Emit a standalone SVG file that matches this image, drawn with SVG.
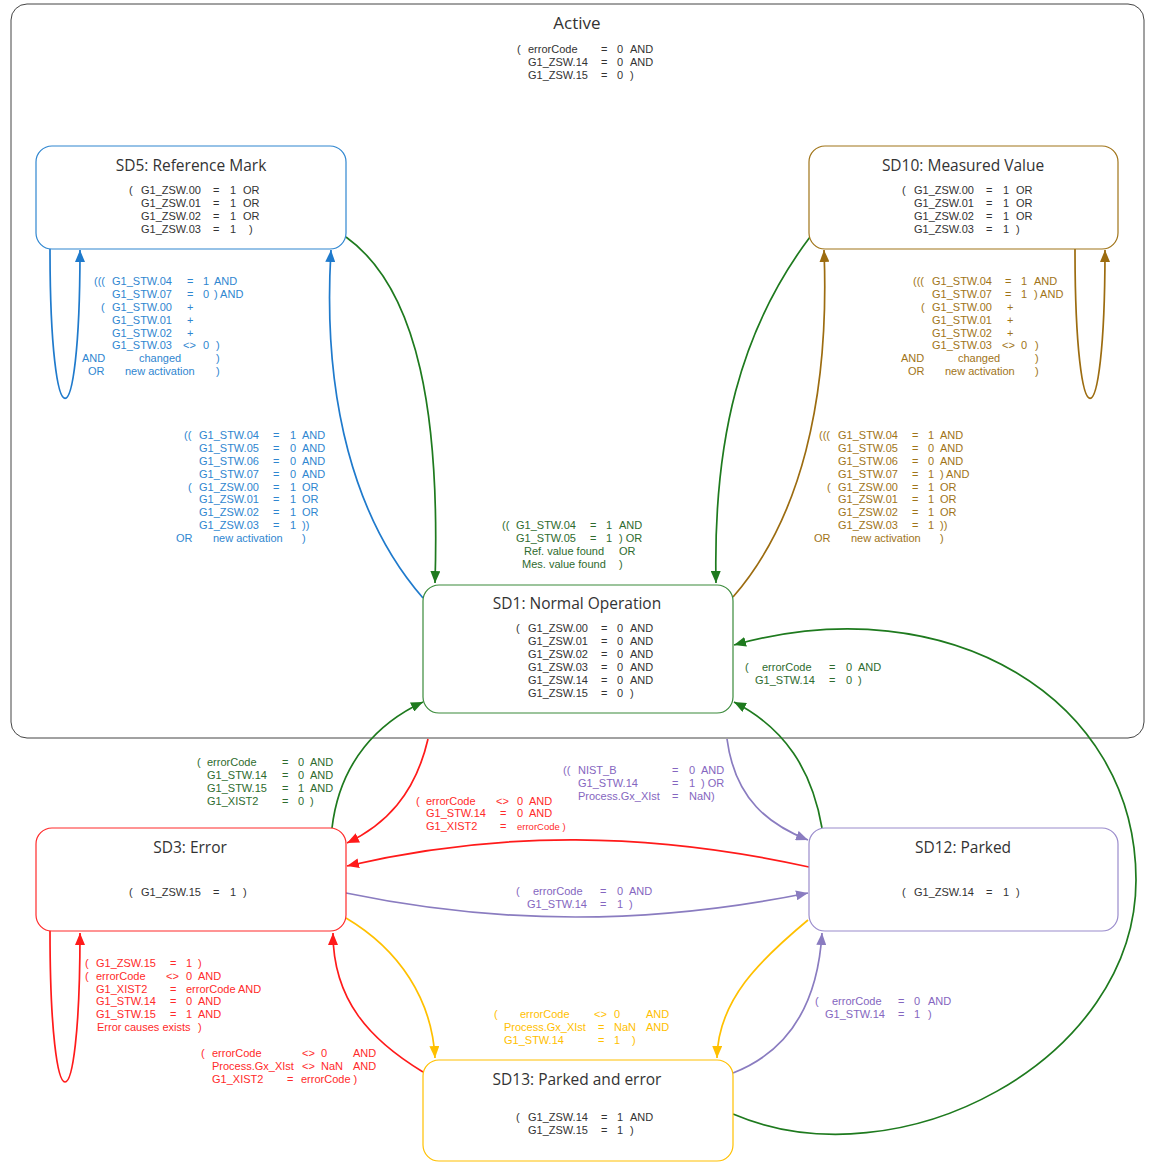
<svg xmlns="http://www.w3.org/2000/svg" width="1150" height="1162" viewBox="0 0 1150 1162">
<style>
.t{font-family:"Liberation Sans",Arial,sans-serif;font-size:11px}
.h{font-family:"Open Sans","Noto Sans",sans-serif;font-size:15.5px;text-anchor:middle;fill:#333}
.n{fill:#333}
.node{fill:#fff;stroke-width:1.2}
.c{fill:none;stroke-width:1.7}
.blue{fill:#2f86d0}.green{fill:#2e6b2e}.brown{fill:#a07418}.red{fill:#ff2a2a}.purple{fill:#8566c0}.yellow{fill:#ffc000}
</style>
<defs>
<marker id="aB" viewBox="0 0 12 10" refX="12" refY="5" markerWidth="12" markerHeight="10" markerUnits="userSpaceOnUse" orient="auto"><path d="M0,0 L12,5 L0,10 z" fill="#1f7acc"/></marker>
<marker id="aG" viewBox="0 0 12 10" refX="12" refY="5" markerWidth="12" markerHeight="10" markerUnits="userSpaceOnUse" orient="auto"><path d="M0,0 L12,5 L0,10 z" fill="#1e7a1e"/></marker>
<marker id="aBr" viewBox="0 0 12 10" refX="12" refY="5" markerWidth="12" markerHeight="10" markerUnits="userSpaceOnUse" orient="auto"><path d="M0,0 L12,5 L0,10 z" fill="#9c6c10"/></marker>
<marker id="aR" viewBox="0 0 12 10" refX="12" refY="5" markerWidth="12" markerHeight="10" markerUnits="userSpaceOnUse" orient="auto"><path d="M0,0 L12,5 L0,10 z" fill="#ff1a1a"/></marker>
<marker id="aP" viewBox="0 0 12 10" refX="12" refY="5" markerWidth="12" markerHeight="10" markerUnits="userSpaceOnUse" orient="auto"><path d="M0,0 L12,5 L0,10 z" fill="#8a7cc0"/></marker>
<marker id="aY" viewBox="0 0 12 10" refX="12" refY="5" markerWidth="12" markerHeight="10" markerUnits="userSpaceOnUse" orient="auto"><path d="M0,0 L12,5 L0,10 z" fill="#ffc000"/></marker>
</defs>
<rect width="1150" height="1162" fill="#fff"/>
<g id="active">
<rect x="11" y="4" width="1133" height="734" rx="16" fill="none" stroke="#444" stroke-width="1"/>
<text class="h" x="577" y="29" style="font-size:17px">Active</text>
<text class="t n"><tspan x="517" y="53">(</tspan><tspan x="528">errorCode</tspan><tspan x="601">=</tspan><tspan x="617">0</tspan><tspan x="630">AND</tspan><tspan x="528" y="66">G1_ZSW.14</tspan><tspan x="601">=</tspan><tspan x="617">0</tspan><tspan x="630">AND</tspan><tspan x="528" y="79">G1_ZSW.15</tspan><tspan x="601">=</tspan><tspan x="617">0</tspan><tspan x="630">)</tspan></text>
</g>
<g id="connectors">
<path class="c" stroke="#1f7acc" d="M50,249 C50,448 80,448 80,250" marker-end="url(#aB)"/>
<path class="c" stroke="#1f7acc" d="M423,598 C355,520 322,400 331,250" marker-end="url(#aB)"/>
<path class="c" stroke="#1e7a1e" d="M346,237 C420,290 440,420 435,583" marker-end="url(#aG)"/>
<path class="c" stroke="#1e7a1e" d="M810,237 C740,330 713,440 716,583" marker-end="url(#aG)"/>
<path class="c" stroke="#9c6c10" d="M733,597 C800,520 830,400 824,250" marker-end="url(#aBr)"/>
<path class="c" stroke="#9c6c10" d="M1075,249 C1075,448 1105,448 1105,250" marker-end="url(#aBr)"/>
<path class="c" stroke="#1e7a1e" d="M733,1114 C900,1185 1136,1060 1136,880 C1136,700 950,585 734,645" marker-end="url(#aG)"/>
<path class="c" stroke="#1e7a1e" d="M822,828 C812,770 785,728 734,702" marker-end="url(#aG)"/>
<path class="c" stroke="#8a7cc0" d="M727,739 C735,800 770,825 808,840" marker-end="url(#aP)"/>
<path class="c" stroke="#1e7a1e" d="M332,828 C340,760 380,722 423,702" marker-end="url(#aG)"/>
<path class="c" stroke="#ff1a1a" d="M428,739 C415,795 385,825 347,843" marker-end="url(#aR)"/>
<path class="c" stroke="#ff1a1a" d="M809,867 C650,832 500,830 347,866" marker-end="url(#aR)"/>
<path class="c" stroke="#8a7cc0" d="M346,893 C500,925 650,925 808,893" marker-end="url(#aP)"/>
<path class="c" stroke="#ff1a1a" d="M50,931 C50,1132 80,1132 80,933" marker-end="url(#aR)"/>
<path class="c" stroke="#ffc000" d="M346,918 C400,950 432,1000 435,1058" marker-end="url(#aY)"/>
<path class="c" stroke="#ff1a1a" d="M423,1072 C370,1040 333,1000 333,933" marker-end="url(#aR)"/>
<path class="c" stroke="#ffc000" d="M808,920 C760,960 718,1000 717,1058" marker-end="url(#aY)"/>
<path class="c" stroke="#8a7cc0" d="M733,1073 C792,1050 818,1000 822,933" marker-end="url(#aP)"/>
</g>
<g id="labels">
<text class="t blue"><tspan x="94" y="285">(((</tspan><tspan x="112">G1_STW.04</tspan><tspan x="187">=</tspan><tspan x="203">1</tspan><tspan x="214">AND</tspan><tspan x="112" y="298">G1_STW.07</tspan><tspan x="187">=</tspan><tspan x="203">0</tspan><tspan x="214">) AND</tspan><tspan x="101" y="311">(</tspan><tspan x="112">G1_STW.00</tspan><tspan x="187">+</tspan><tspan x="112" y="324">G1_STW.01</tspan><tspan x="187">+</tspan><tspan x="112" y="337">G1_STW.02</tspan><tspan x="187">+</tspan><tspan x="112" y="349">G1_STW.03</tspan><tspan x="183">&lt;&gt;</tspan><tspan x="203">0</tspan><tspan x="216">)</tspan><tspan x="82" y="362">AND</tspan><tspan x="139">changed</tspan><tspan x="216">)</tspan><tspan x="88" y="375">OR</tspan><tspan x="125">new activation</tspan><tspan x="216">)</tspan></text>
<text class="t blue"><tspan x="184" y="439">((</tspan><tspan x="199">G1_STW.04</tspan><tspan x="273">=</tspan><tspan x="290">1</tspan><tspan x="302">AND</tspan><tspan x="199" y="452">G1_STW.05</tspan><tspan x="273">=</tspan><tspan x="290">0</tspan><tspan x="302">AND</tspan><tspan x="199" y="465">G1_STW.06</tspan><tspan x="273">=</tspan><tspan x="290">0</tspan><tspan x="302">AND</tspan><tspan x="199" y="478">G1_STW.07</tspan><tspan x="273">=</tspan><tspan x="290">0</tspan><tspan x="302">AND</tspan><tspan x="188" y="491">(</tspan><tspan x="199">G1_ZSW.00</tspan><tspan x="273">=</tspan><tspan x="290">1</tspan><tspan x="302">OR</tspan><tspan x="199" y="503">G1_ZSW.01</tspan><tspan x="273">=</tspan><tspan x="290">1</tspan><tspan x="302">OR</tspan><tspan x="199" y="516">G1_ZSW.02</tspan><tspan x="273">=</tspan><tspan x="290">1</tspan><tspan x="302">OR</tspan><tspan x="199" y="529">G1_ZSW.03</tspan><tspan x="273">=</tspan><tspan x="290">1</tspan><tspan x="302">))</tspan><tspan x="176" y="542">OR</tspan><tspan x="213">new activation</tspan><tspan x="302">)</tspan></text>
<text class="t brown"><tspan x="913" y="285">(((</tspan><tspan x="932">G1_STW.04</tspan><tspan x="1005">=</tspan><tspan x="1021">1</tspan><tspan x="1034">AND</tspan><tspan x="932" y="298">G1_STW.07</tspan><tspan x="1005">=</tspan><tspan x="1021">1</tspan><tspan x="1034">) AND</tspan><tspan x="921" y="311">(</tspan><tspan x="932">G1_STW.00</tspan><tspan x="1007">+</tspan><tspan x="932" y="324">G1_STW.01</tspan><tspan x="1007">+</tspan><tspan x="932" y="337">G1_STW.02</tspan><tspan x="1007">+</tspan><tspan x="932" y="349">G1_STW.03</tspan><tspan x="1002">&lt;&gt;</tspan><tspan x="1021">0</tspan><tspan x="1035">)</tspan><tspan x="901" y="362">AND</tspan><tspan x="958">changed</tspan><tspan x="1035">)</tspan><tspan x="908" y="375">OR</tspan><tspan x="945">new activation</tspan><tspan x="1035">)</tspan></text>
<text class="t brown"><tspan x="819" y="439">(((</tspan><tspan x="838">G1_STW.04</tspan><tspan x="912">=</tspan><tspan x="928">1</tspan><tspan x="940">AND</tspan><tspan x="838" y="452">G1_STW.05</tspan><tspan x="912">=</tspan><tspan x="928">0</tspan><tspan x="940">AND</tspan><tspan x="838" y="465">G1_STW.06</tspan><tspan x="912">=</tspan><tspan x="928">0</tspan><tspan x="940">AND</tspan><tspan x="838" y="478">G1_STW.07</tspan><tspan x="912">=</tspan><tspan x="928">1</tspan><tspan x="940">) AND</tspan><tspan x="827" y="491">(</tspan><tspan x="838">G1_ZSW.00</tspan><tspan x="912">=</tspan><tspan x="928">1</tspan><tspan x="940">OR</tspan><tspan x="838" y="503">G1_ZSW.01</tspan><tspan x="912">=</tspan><tspan x="928">1</tspan><tspan x="940">OR</tspan><tspan x="838" y="516">G1_ZSW.02</tspan><tspan x="912">=</tspan><tspan x="928">1</tspan><tspan x="940">OR</tspan><tspan x="838" y="529">G1_ZSW.03</tspan><tspan x="912">=</tspan><tspan x="928">1</tspan><tspan x="940">))</tspan><tspan x="814" y="542">OR</tspan><tspan x="851">new activation</tspan><tspan x="940">)</tspan></text>
<text class="t green"><tspan x="502" y="529">((</tspan><tspan x="516">G1_STW.04</tspan><tspan x="590">=</tspan><tspan x="606">1</tspan><tspan x="619">AND</tspan><tspan x="516" y="542">G1_STW.05</tspan><tspan x="590">=</tspan><tspan x="606">1</tspan><tspan x="619">) OR</tspan><tspan x="524" y="555">Ref. value found</tspan><tspan x="619">OR</tspan><tspan x="522" y="568">Mes. value found</tspan><tspan x="619">)</tspan></text>
<text class="t green"><tspan x="745" y="671">(</tspan><tspan x="762">errorCode</tspan><tspan x="829">=</tspan><tspan x="846">0</tspan><tspan x="858">AND</tspan><tspan x="755" y="684">G1_STW.14</tspan><tspan x="829">=</tspan><tspan x="846">0</tspan><tspan x="858">)</tspan></text>
<text class="t green"><tspan x="197" y="766">(</tspan><tspan x="207">errorCode</tspan><tspan x="282">=</tspan><tspan x="298">0</tspan><tspan x="310">AND</tspan><tspan x="207" y="779">G1_STW.14</tspan><tspan x="282">=</tspan><tspan x="298">0</tspan><tspan x="310">AND</tspan><tspan x="207" y="792">G1_STW.15</tspan><tspan x="282">=</tspan><tspan x="298">1</tspan><tspan x="310">AND</tspan><tspan x="207" y="805">G1_XIST2</tspan><tspan x="282">=</tspan><tspan x="298">0</tspan><tspan x="310">)</tspan></text>
<text class="t red"><tspan x="416" y="805">(</tspan><tspan x="426">errorCode</tspan><tspan x="496">&lt;&gt;</tspan><tspan x="517">0</tspan><tspan x="529">AND</tspan><tspan x="426" y="817">G1_STW.14</tspan><tspan x="500">=</tspan><tspan x="517">0</tspan><tspan x="529">AND</tspan><tspan x="426" y="830">G1_XIST2</tspan><tspan x="500">=</tspan><tspan x="517" style="font-size:9.5px">errorCode )</tspan></text>
<text class="t purple"><tspan x="563" y="774">((</tspan><tspan x="578">NIST_B</tspan><tspan x="672">=</tspan><tspan x="689">0</tspan><tspan x="701">AND</tspan><tspan x="578" y="787">G1_STW.14</tspan><tspan x="672">=</tspan><tspan x="689">1</tspan><tspan x="701">) OR</tspan><tspan x="578" y="800">Process.Gx_XIst</tspan><tspan x="672">=</tspan><tspan x="689">NaN)</tspan></text>
<text class="t purple"><tspan x="516" y="895">(</tspan><tspan x="533">errorCode</tspan><tspan x="600">=</tspan><tspan x="617">0</tspan><tspan x="629">AND</tspan><tspan x="527" y="908">G1_STW.14</tspan><tspan x="600">=</tspan><tspan x="617">1</tspan><tspan x="629">)</tspan></text>
<text class="t red"><tspan x="85" y="967">(</tspan><tspan x="96">G1_ZSW.15</tspan><tspan x="170">=</tspan><tspan x="186">1</tspan><tspan x="198">)</tspan><tspan x="85" y="980">(</tspan><tspan x="96">errorCode</tspan><tspan x="166">&lt;&gt;</tspan><tspan x="186">0</tspan><tspan x="198">AND</tspan><tspan x="96" y="993">G1_XIST2</tspan><tspan x="170">=</tspan><tspan x="186">errorCode AND</tspan><tspan x="96" y="1005">G1_STW.14</tspan><tspan x="170">=</tspan><tspan x="186">0</tspan><tspan x="198">AND</tspan><tspan x="96" y="1018">G1_STW.15</tspan><tspan x="170">=</tspan><tspan x="186">1</tspan><tspan x="198">AND</tspan><tspan x="97" y="1031">Error causes exists</tspan><tspan x="198">)</tspan></text>
<text class="t red"><tspan x="201" y="1057">(</tspan><tspan x="212">errorCode</tspan><tspan x="302">&lt;&gt;</tspan><tspan x="321">0</tspan><tspan x="353">AND</tspan><tspan x="212" y="1070">Process.Gx_XIst</tspan><tspan x="302">&lt;&gt;</tspan><tspan x="321">NaN</tspan><tspan x="353">AND</tspan><tspan x="212" y="1083">G1_XIST2</tspan><tspan x="287">=</tspan><tspan x="301">errorCode )</tspan></text>
<text class="t yellow"><tspan x="494" y="1018">(</tspan><tspan x="520">errorCode</tspan><tspan x="594">&lt;&gt;</tspan><tspan x="614">0</tspan><tspan x="646">AND</tspan><tspan x="504" y="1031">Process.Gx_XIst</tspan><tspan x="598">=</tspan><tspan x="614">NaN</tspan><tspan x="646">AND</tspan><tspan x="504" y="1044">G1_STW.14</tspan><tspan x="598">=</tspan><tspan x="614">1</tspan><tspan x="632">)</tspan></text>
<text class="t purple"><tspan x="815" y="1005">(</tspan><tspan x="832">errorCode</tspan><tspan x="898">=</tspan><tspan x="914">0</tspan><tspan x="928">AND</tspan><tspan x="825" y="1018">G1_STW.14</tspan><tspan x="898">=</tspan><tspan x="914">1</tspan><tspan x="928">)</tspan></text>
</g>
<g id="SD5">
<rect class="node" x="36" y="146" width="310" height="103" rx="16" stroke="#2f86d0"/>
<text class="h" x="191" y="171">SD5: Reference Mark</text>
<text class="t n"><tspan x="129" y="194">(</tspan><tspan x="141">G1_ZSW.00</tspan><tspan x="213">=</tspan><tspan x="230">1</tspan><tspan x="243">OR</tspan><tspan x="141" y="207">G1_ZSW.01</tspan><tspan x="213">=</tspan><tspan x="230">1</tspan><tspan x="243">OR</tspan><tspan x="141" y="220">G1_ZSW.02</tspan><tspan x="213">=</tspan><tspan x="230">1</tspan><tspan x="243">OR</tspan><tspan x="141" y="233">G1_ZSW.03</tspan><tspan x="213">=</tspan><tspan x="230">1</tspan><tspan x="249">)</tspan></text>
</g>
<g id="SD10">
<rect class="node" x="809" y="146" width="309" height="103" rx="16" stroke="#a07418"/>
<text class="h" x="963" y="171">SD10: Measured Value</text>
<text class="t n"><tspan x="902" y="194">(</tspan><tspan x="914">G1_ZSW.00</tspan><tspan x="986">=</tspan><tspan x="1003">1</tspan><tspan x="1016">OR</tspan><tspan x="914" y="207">G1_ZSW.01</tspan><tspan x="986">=</tspan><tspan x="1003">1</tspan><tspan x="1016">OR</tspan><tspan x="914" y="220">G1_ZSW.02</tspan><tspan x="986">=</tspan><tspan x="1003">1</tspan><tspan x="1016">OR</tspan><tspan x="914" y="233">G1_ZSW.03</tspan><tspan x="986">=</tspan><tspan x="1003">1</tspan><tspan x="1016">)</tspan></text>
</g>
<g id="SD1">
<rect class="node" x="423" y="585" width="310" height="128" rx="16" stroke="#3a8a3a"/>
<text class="h" x="577" y="609">SD1: Normal Operation</text>
<text class="t n"><tspan x="516" y="632">(</tspan><tspan x="528">G1_ZSW.00</tspan><tspan x="601">=</tspan><tspan x="617">0</tspan><tspan x="630">AND</tspan><tspan x="528" y="645">G1_ZSW.01</tspan><tspan x="601">=</tspan><tspan x="617">0</tspan><tspan x="630">AND</tspan><tspan x="528" y="658">G1_ZSW.02</tspan><tspan x="601">=</tspan><tspan x="617">0</tspan><tspan x="630">AND</tspan><tspan x="528" y="671">G1_ZSW.03</tspan><tspan x="601">=</tspan><tspan x="617">0</tspan><tspan x="630">AND</tspan><tspan x="528" y="684">G1_ZSW.14</tspan><tspan x="601">=</tspan><tspan x="617">0</tspan><tspan x="630">AND</tspan><tspan x="528" y="697">G1_ZSW.15</tspan><tspan x="601">=</tspan><tspan x="617">0</tspan><tspan x="630">)</tspan></text>
</g>
<g id="SD3">
<rect class="node" x="36" y="828" width="310" height="103" rx="16" stroke="#ff2a2a"/>
<text class="h" x="190" y="853">SD3: Error</text>
<text class="t n"><tspan x="129" y="896">(</tspan><tspan x="141">G1_ZSW.15</tspan><tspan x="213">=</tspan><tspan x="230">1</tspan><tspan x="243">)</tspan></text>
</g>
<g id="SD12">
<rect class="node" x="809" y="828" width="309" height="103" rx="16" stroke="#9a8ccc"/>
<text class="h" x="963" y="853">SD12: Parked</text>
<text class="t n"><tspan x="902" y="896">(</tspan><tspan x="914">G1_ZSW.14</tspan><tspan x="986">=</tspan><tspan x="1003">1</tspan><tspan x="1016">)</tspan></text>
</g>
<g id="SD13">
<rect class="node" x="423" y="1060" width="310" height="101" rx="16" stroke="#ffc000"/>
<text class="h" x="577" y="1085">SD13: Parked and error</text>
<text class="t n"><tspan x="516" y="1121">(</tspan><tspan x="528">G1_ZSW.14</tspan><tspan x="601">=</tspan><tspan x="617">1</tspan><tspan x="630">AND</tspan><tspan x="528" y="1134">G1_ZSW.15</tspan><tspan x="601">=</tspan><tspan x="617">1</tspan><tspan x="630">)</tspan></text>
</g>
</svg>
